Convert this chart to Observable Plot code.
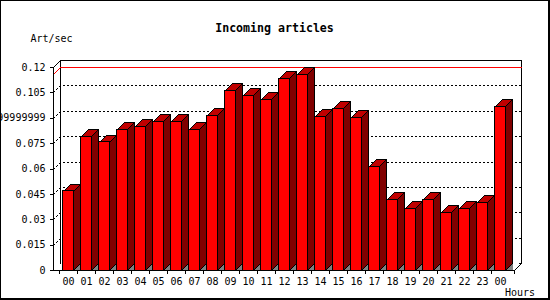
<!DOCTYPE html>
<html>
<head>
<meta charset="utf-8">
<script src="https://cdn.jsdelivr.net/npm/d3@7"></script>
<script src="https://cdn.jsdelivr.net/npm/@observablehq/plot@0.6"></script>
<style>
  body { margin: 0; background: #fff; }
  #wrap { position: relative; width: 550px; height: 300px; overflow: hidden; background: #fff; }
  #border { position: absolute; left: 0; top: 0; width: 550px; height: 300px; box-sizing: border-box;
            border-style: solid; border-color: #000; border-width: 1px 2px 2px 1px; pointer-events: none; }
</style>
</head>
<body>
<div id="wrap"><div id="chart"></div><div id="border"></div></div>
<script>
// ---- data ----
const hours = ["00","01","02","03","04","05","06","07","08","09","10","11","12",
               "13","14","15","16","17","18","19","20","21","22","23","00"];
const rates = [0.0469, 0.0792, 0.0757, 0.0832, 0.0849, 0.0879, 0.0879, 0.0832, 0.0914,
               0.1062, 0.1033, 0.1009, 0.1133, 0.1157, 0.0908, 0.0956, 0.0903, 0.0613,
               0.0418, 0.0365, 0.0418, 0.0341, 0.0365, 0.0400, 0.0968];
const yTicks = [0, 0.015, 0.03, 0.045, 0.06, 0.075, 0.09, 0.105, 0.12];
const yTickLabels = ["0", "0.015", "0.03", "0.045", "0.06", "0.075", "0.0899999999999999", "0.105", "0.12"];
const title = "Incoming articles";
const yLabel = "Art/sec";
const xLabel = "Hours";

const data = rates.map((v, i) => ({i, hour: hours[i], v}));
const maxRate = d3.max(rates);

// ---- style ----
const DX = 7, DY = 7;              // 3D depth in px
const INSET = 3.7;                 // gap inside each band
const FRONT = "#ff0000", SIDE = "#800000", TOP = "#c00000", FLOOR = "#808080";
const FONT = "'DejaVu Sans Mono', 'Liberation Mono', monospace";
const p = v => Math.round(v) + 0.5;

function line(g, pts, attrs) {
  const el = g.append("path").attr("d", "M" + pts.map(q => q.join(",")).join("L")).attr("fill", "none");
  for (const k in attrs) el.attr(k, attrs[k]);
  return el;
}

// Back walls, grid, max line, bar sides/tops
function backScene(index, scales, values, dim) {
  const x = scales.x, y = scales.y;
  const [x0, x1] = x.range();
  const bw = x.bandwidth();
  const yb = y(0), yt = y(yTicks[yTicks.length - 1]);
  const g = d3.create("svg:g").attr("shape-rendering", "crispEdges");
  g.append("rect").attr("x", p(x0 + DX)).attr("y", p(yt - DY))
    .attr("width", Math.round(x1 - x0)).attr("height", Math.round(yb - yt)).attr("fill", "#fff");
  for (const t of yTicks.slice(1, -1)) {
    const yy = y(t);
    line(g, [[p(x0), p(yy)], [p(x0 + DX), p(yy - DY)], [p(x1 + DX), p(yy - DY)]],
         {stroke: "#000", "stroke-dasharray": "2,2"});
  }
  for (const t of yTicks) {
    const yy = y(t);
    line(g, [[p(x1 + DX - 3), p(yy - DY)], [p(x1 + DX), p(yy - DY)]], {stroke: "#000"});
  }
  line(g, [[p(x0 + DX), p(yb - DY)], [p(x0 + DX), p(yt - DY)], [p(x1 + DX), p(yt - DY)], [p(x1 + DX), p(yb - DY)]],
       {stroke: "#000"});
  const ym = y(maxRate);
  line(g, [[p(x0), p(ym)], [p(x0 + DX), p(ym - DY)], [p(x1 + DX), p(ym - DY)]], {stroke: "#ff0000"});
  for (const d of data) {
    const xl = Math.round(x(d.i) + INSET) + 0.5;
    const xr = Math.round(x(d.i) + bw - INSET) + 0.5;
    const ytop = Math.round(y(d.v)) + 0.5;
    const ybt = Math.round(yb) + 0.5;
    g.append("path").attr("d", `M${xr},${ybt}L${xr + DX},${ybt - DY}L${xr + DX},${ybt}Z`)
      .attr("fill", FLOOR).attr("stroke", "none");
    g.append("path").attr("d", `M${xr},${ytop}L${xr + DX},${ytop - DY}L${xr + DX},${ybt - DY}L${xr},${ybt}Z`)
      .attr("fill", SIDE).attr("stroke", "#000");
    g.append("path").attr("d", `M${xl},${ytop}L${xl + DX},${ytop - DY}L${xr + DX},${ytop - DY}L${xr},${ytop}Z`)
      .attr("fill", TOP).attr("stroke", "#000");
  }
  return g.node();
}

// Front axes lines and boundary ticks
function frontScene(index, scales, values, dim) {
  const x = scales.x, y = scales.y;
  const [x0, x1] = x.range();
  const yb = y(0), yt = y(yTicks[yTicks.length - 1]);
  const g = d3.create("svg:g").attr("shape-rendering", "crispEdges");
  line(g, [[p(x0 + DX), p(yt - DY)], [p(x0), p(yt)], [p(x0), p(yb)], [p(x1), p(yb)], [p(x1 + DX), p(yb - DY)]],
       {stroke: "#000"});
  const bounds = x.domain().map(i => x(i)).concat([x1]);
  for (const b of bounds) line(g, [[p(b), p(yb)], [p(b), p(yb + 3)]], {stroke: "#000"});
  return g.node();
}

const chart = Plot.plot({
  width: 550,
  height: 300,
  marginTop: 67,
  marginBottom: 30,
  marginLeft: 53,
  marginRight: 36,
  style: {fontFamily: FONT, fontSize: "10px", color: "#000", background: "transparent", overflow: "visible"},
  x: {type: "band", domain: d3.range(hours.length), padding: 0, axis: null},
  y: {domain: [0, yTicks[yTicks.length - 1]], axis: null},
  marks: [
    backScene,
    Plot.barY(data, {x: "i", y: "v", fill: FRONT, stroke: "#000", insetLeft: INSET, insetRight: INSET,
                     shapeRendering: "crispEdges"}),
    frontScene,
    Plot.axisY({ticks: yTicks, tickFormat: d => yTickLabels[yTicks.indexOf(d)], tickSize: 3, tickPadding: 5,
                label: null, fontSize: 10, shapeRendering: "crispEdges"}),
    Plot.axisX({tickFormat: i => hours[i], tickSize: 0, tickPadding: 7, label: null, fontSize: 10}),
    Plot.text([title], {text: d => d, frameAnchor: "top-left", dx: 221, dy: -44, textAnchor: "middle",
                        fontWeight: "bold", fontSize: 11.6}),
    Plot.text([yLabel], {text: d => d, frameAnchor: "top-left", dx: -23, dy: -33, textAnchor: "start", fontSize: 10}),
    Plot.text([xLabel], {text: d => d, frameAnchor: "bottom-right", dx: -9.5, dy: 25.5, textAnchor: "start", fontSize: 10})
  ]
});
document.getElementById("chart").appendChild(chart);
</script>
</body>
</html>
